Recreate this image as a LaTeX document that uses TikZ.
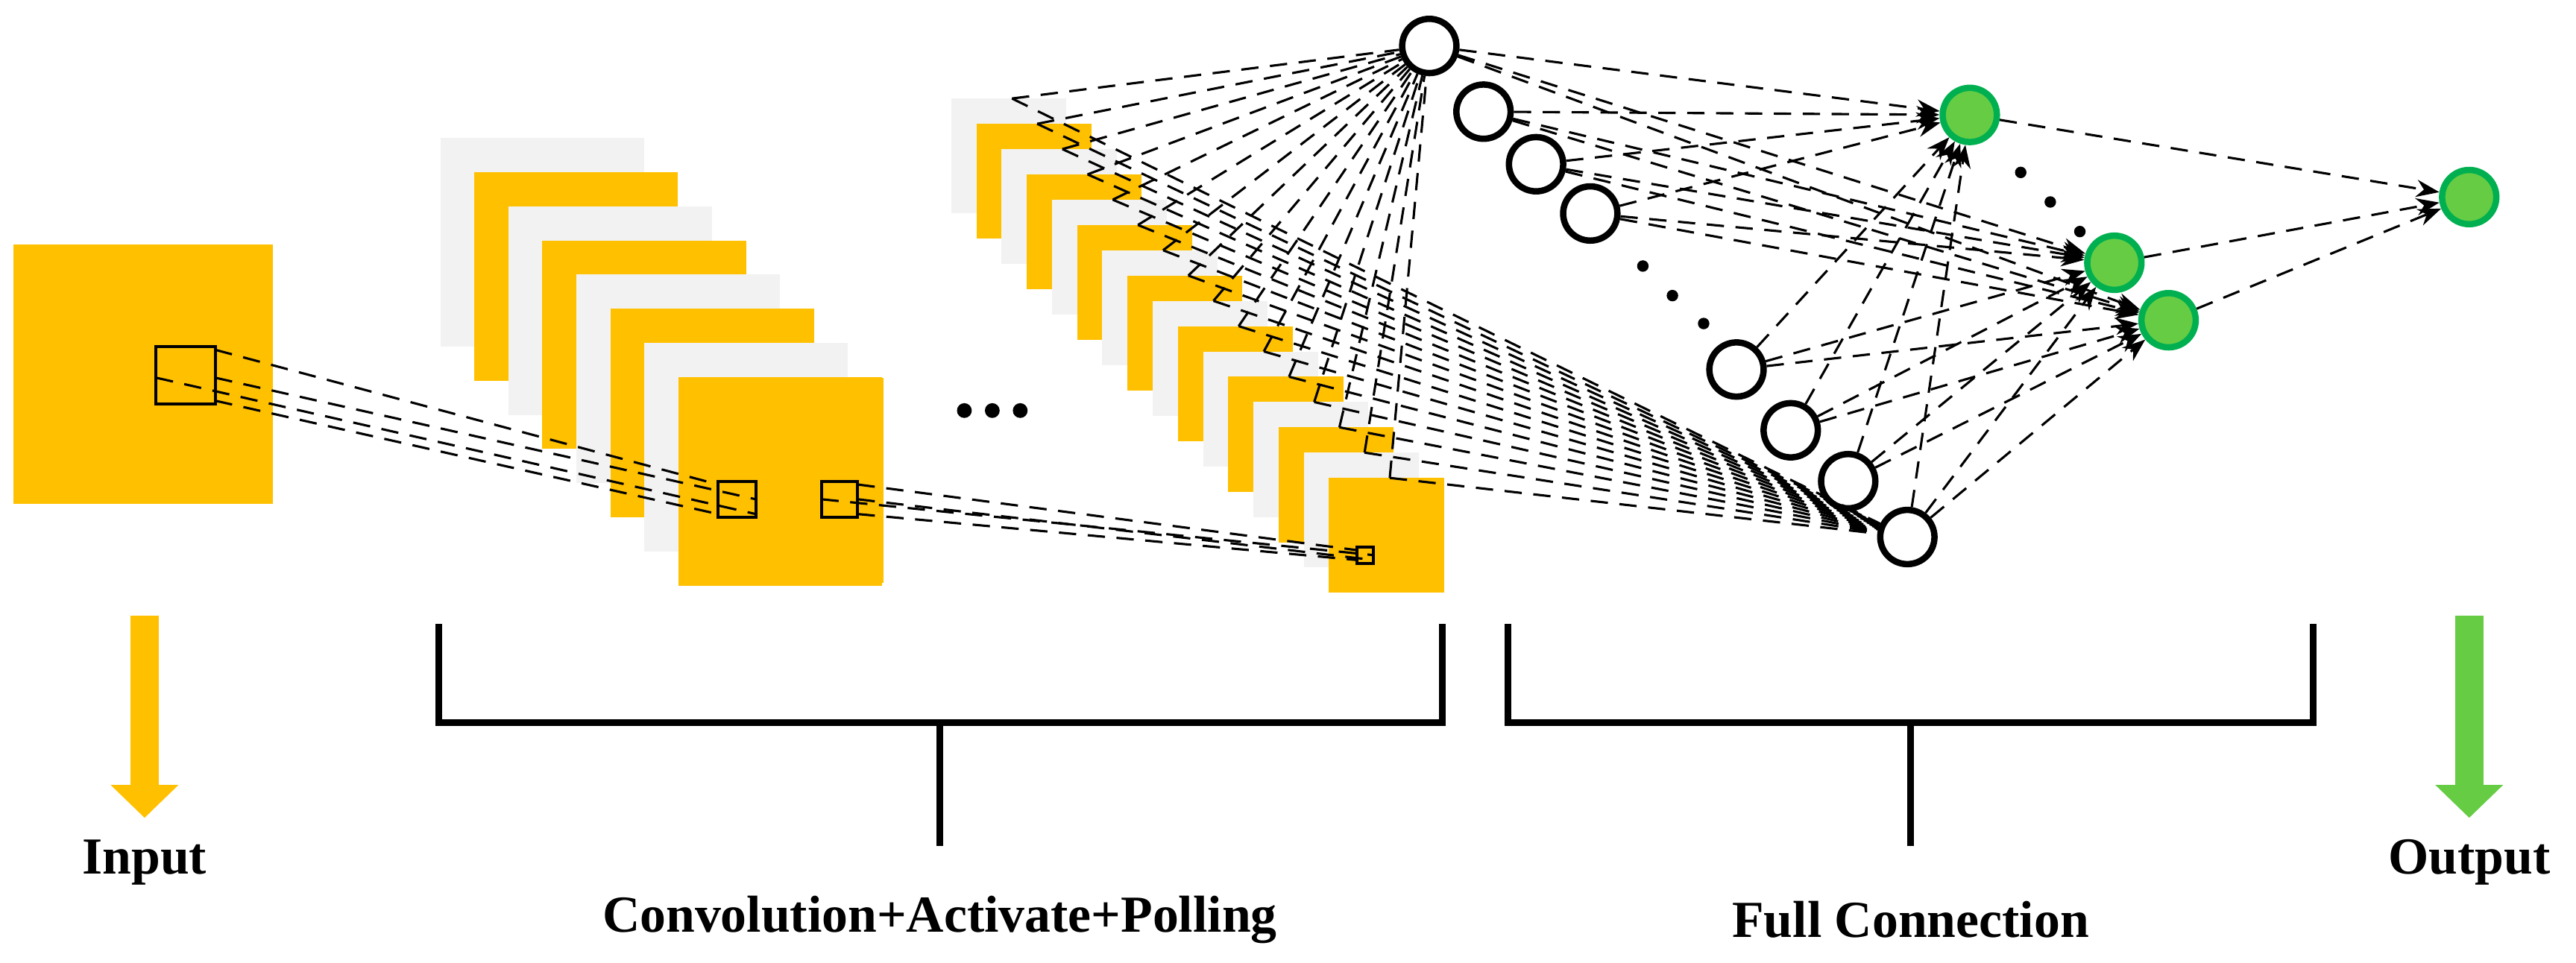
\documentclass[tikz,border=0pt]{standalone}
\usepackage{fontspec}
\setmainfont{Liberation Serif}
\usetikzlibrary{arrows.meta}
\definecolor{og}{HTML}{FFC000}
\definecolor{lg}{HTML}{F2F2F2}
\definecolor{gf}{HTML}{66CC44}
\definecolor{gb}{HTML}{00B050}
\begin{document}
\begin{tikzpicture}[x=0.01cm,y=-0.01cm,
  dl/.style={densely dashed,line width=0.4pt},
  da/.style={dl,-{Stealth[length=4pt,width=3pt]}},
  hid/.style={circle,draw=black,line width=1.1pt,fill=white,minimum size=0.33cm,inner sep=0},
  grn/.style={circle,draw=gb,line width=1.1pt,fill=gf,minimum size=0.33cm,inner sep=0},
  dot/.style={circle,fill=black,minimum size=0.07cm,inner sep=0},
  sq/.style={draw=black,line width=0.5pt},
  lab/.style={font=\fontsize{9}{11}\selectfont\bfseries},
  br/.style={line width=1.2pt}]
\useasboundingbox (0,0) rectangle (1568,586);
% input
\fill[og] (8,149) rectangle (166,307);
% left stack
\foreach \i in {0,...,7}{
  \pgfmathsetmacro\xx{268+20.7*\i}\pgfmathsetmacro\yy{84+20.8*\i}
  \pgfmathtruncatemacro\odd{mod(\i,2)}
  \ifnum\odd=0 \fill[lg] (\xx,\yy) rectangle ++(124,127);\else\fill[og] (\xx,\yy) rectangle ++(124,127);\fi}
\fill[og] (413,230) rectangle (538,355);
% right stack
\foreach \i in {0,...,15}{
  \pgfmathsetmacro\xx{579+15.33*\i}\pgfmathsetmacro\yy{60+15.4*\i}
  \pgfmathtruncatemacro\odd{mod(\i,2)}
  \ifnum\odd=0 \fill[lg] (\xx,\yy) rectangle ++(70,70);\else\fill[og] (\xx,\yy) rectangle ++(70,70);\fi
  \coordinate (s\i) at (\xx+37,\yy);}
% small squares
\draw[sq] (95,211) rectangle (131,246);
\draw[sq] (437,293) rectangle (460,315);
\draw[sq] (500,293) rectangle (522,315);
\draw[sq] (826,333) rectangle (836,343);
\coordinate (a1) at (131,213);\coordinate (a2) at (131,244);\coordinate (a3) at (95,230);\coordinate (a4) at (131,230);
\coordinate (b1) at (437,295);\coordinate (b2) at (460,313);\coordinate (b3) at (437,313);\coordinate (b4) at (460,304);
\draw[dl] (a1)--(b1);\draw[dl] (a2)--(b3);\draw[dl] (a3)--(b2);\draw[dl] (a4)--(b4);
\coordinate (c1) at (522,295);\coordinate (c2) at (522,313);\coordinate (c3) at (500,304);\coordinate (c4) at (522,304);
\coordinate (d1) at (826,335);\coordinate (d2) at (836,341);\coordinate (d3) at (826,341);\coordinate (d4) at (836,338);
\draw[dl] (c1)--(d1);\draw[dl] (c2)--(d3);\draw[dl] (c3)--(d4);\draw[dl] (c4)--(d2);
% dots
\foreach \x [count=\k] in {587,604,621}{\node[dot,minimum size=0.09cm] (e\k) at (\x,250) {};}
% hidden nodes
\node[hid] (h1) at (870,28) {};
\node[hid] (h2) at (903,68) {};
\node[hid] (h3) at (935,100) {};
\node[hid] (h4) at (968,130) {};
\node[hid] (h5) at (1057,225) {};
\node[hid] (h6) at (1090,262) {};
\node[hid] (h7) at (1125,293) {};
\node[hid] (h8) at (1161,327) {};
\node[dot] (k1) at (1000,162) {};\node[dot] (k2) at (1018,180) {};\node[dot] (k3) at (1037,197) {};
\node[grn] (g1) at (1199,70) {};
\node[grn] (g2) at (1287,160) {};
\node[grn] (g3) at (1320,195) {};
\node[grn] (o) at (1503,120) {};
\node[dot] (m1) at (1230,105) {};\node[dot] (m2) at (1248,123) {};\node[dot] (m3) at (1266,141) {};
% fan
\foreach \i in {0,...,15}{\draw[dl] (s\i)--(h1);\draw[dl] (s\i)--(h8);}
\foreach \h in {h1,h2,h3,h4,h5,h6,h7,h8}{\foreach \g in {g1,g2,g3}{\draw[da] (\h)--(\g);}}
\foreach \g in {g1,g2,g3}{\draw[da] (\g)--(o);}
% brackets
\draw[br] (267,380)--(267,440)--(878,440)--(878,380);
\draw[br] (572,440)--(572,515);
\draw[br] (918,380)--(918,440)--(1408,440)--(1408,380);
\draw[br] (1163,440)--(1163,515);
% arrows
\coordinate (ia) at (88,375);\coordinate (ib) at (88,498);
\draw[og,line width=0.17cm,-{Triangle[length=0.2cm,width=0.4cm]}] (ia)--(ib);
\coordinate (oa) at (1503,375);\coordinate (ob) at (1503,498);
\draw[gf,line width=0.17cm,-{Triangle[length=0.2cm,width=0.4cm]}] (oa)--(ob);
\node[lab] (t1) at (88,525) {Input};
\node[lab] (t2) at (572,560) {Convolution+Activate+Polling};
\node[lab] (t3) at (1163,560) {Full Connection};
\node[lab] (t4) at (1503,525) {Output};
\end{tikzpicture}
\end{document}
